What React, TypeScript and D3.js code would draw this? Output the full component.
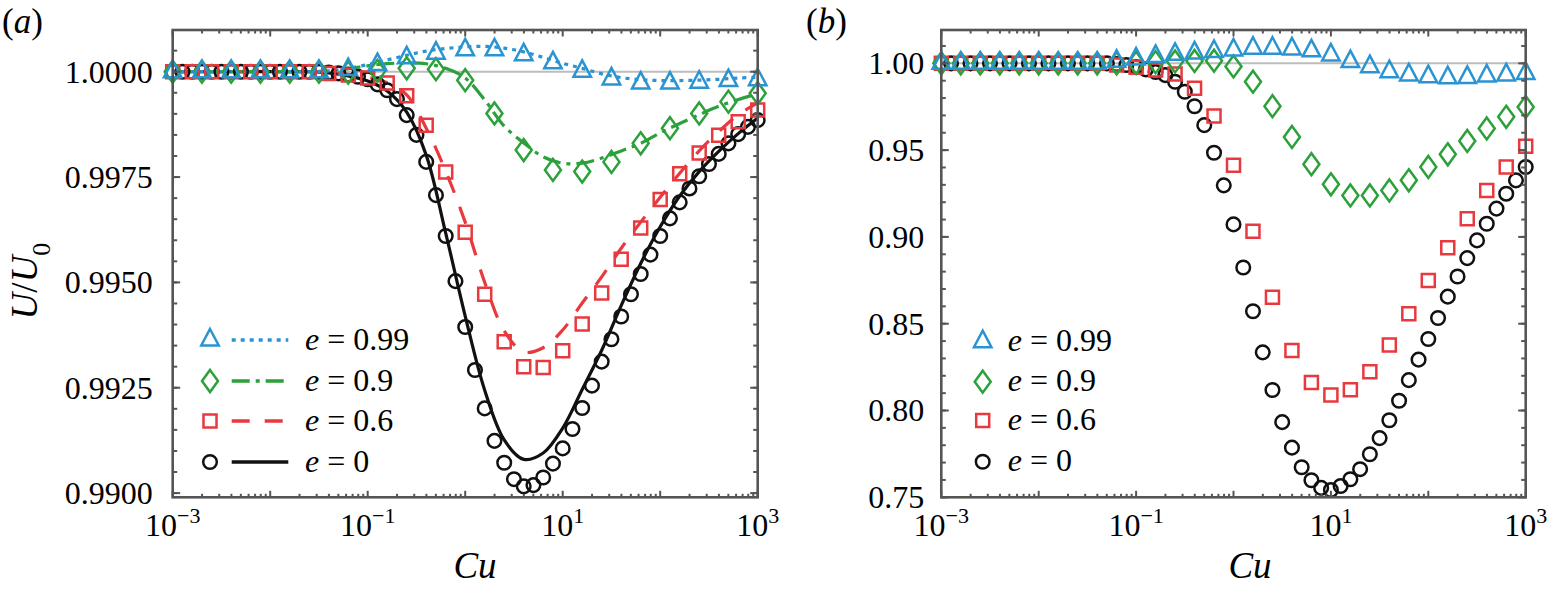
import React, { useEffect, useRef } from 'react';
import * as d3 from 'd3';

// log10(Cu) sampling grids
const expStep3 = [-3, -2.7, -2.4, -2.1, -1.8, -1.5, -1.2, -0.9, -0.6, -0.3, 0, 0.3, 0.6, 0.9, 1.2, 1.5, 1.8, 2.1, 2.4, 2.7, 3];
const expStep2 = [-3, -2.8, -2.6, -2.4, -2.2, -2, -1.8, -1.6, -1.4, -1.2, -1, -0.8, -0.6, -0.4, -0.2, 0, 0.2, 0.4, 0.6, 0.8, 1, 1.2, 1.4, 1.6, 1.8, 2, 2.2, 2.4, 2.6, 2.8, 3];
const expStep1 = [-3, -2.9, -2.8, -2.7, -2.6, -2.5, -2.4, -2.3, -2.2, -2.1, -2, -1.9, -1.8, -1.7, -1.6, -1.5, -1.4, -1.3, -1.2, -1.1, -1, -0.9, -0.8, -0.7, -0.6, -0.5, -0.4, -0.3, -0.2, -0.1, 0, 0.1, 0.2, 0.3, 0.4, 0.5, 0.6, 0.7, 0.8, 0.9, 1, 1.1, 1.2, 1.3, 1.4, 1.5, 1.6, 1.7, 1.8, 1.9, 2, 2.1, 2.2, 2.3, 2.4, 2.5, 2.6, 2.7, 2.8, 2.9, 3];

// panel (a) markers
const aTri099 = [1, 1, 1, 1, 1, 1, 1.00005, 1.00017, 1.00033, 1.00044, 1.00052, 1.00052, 1.0004, 1.00021, 1.00001, 0.99983, 0.99973, 0.99973, 0.99975, 0.99979, 0.99981];
const aDia09 = [1, 1, 1, 1, 1, 1, 0.99998, 1.00002, 1.00008, 1.00006, 0.9998, 0.99901, 0.99814, 0.99767, 0.99763, 0.99786, 0.9983, 0.99866, 0.99901, 0.99929, 0.99949];
const aSq06 = [1, 1, 1, 1, 1, 1, 1, 1, 0.99996, 0.99992, 0.99985, 0.99973, 0.99943, 0.99873, 0.99762, 0.99619, 0.99472, 0.99359, 0.993, 0.99298, 0.99338, 0.99401, 0.99475, 0.99555, 0.99629, 0.99697, 0.99758, 0.99807, 0.99849, 0.99881, 0.99909];
const aCirc0 = [1, 1, 1, 1, 1, 1, 1, 1, 1, 1, 1, 1, 1, 1, 1, 1,
  0.99998, 0.99996, 0.99993, 0.99988, 0.99982, 0.9997, 0.99956, 0.99935, 0.99897,
  0.9985, 0.99786, 0.99707, 0.9961, 0.99503, 0.99394, 0.99292, 0.99201, 0.99124, 0.99072,
  0.99033, 0.99016, 0.99019, 0.99037, 0.9907, 0.99106, 0.99152, 0.99202, 0.99255, 0.99312,
  0.99365, 0.99419, 0.99472, 0.9952, 0.99566, 0.9961, 0.99652, 0.9969, 0.99723, 0.99752,
  0.99781, 0.99805, 0.9983, 0.99852, 0.99869, 0.99885];

// panel (a) theory curves
const aLine099 = [1, 1, 1, 1, 1, 1, 1, 1, 1.00002, 1.00008, 1.00017, 1.00028, 1.00039, 1.00049, 1.00055, 1.00059, 1.0006, 1.00056, 1.00047, 1.00034, 1.0002, 1.00008, 0.99995, 0.99986, 0.99981, 0.99979, 0.99979, 0.9998, 0.99982, 0.99985, 0.99987];
const aLine09 = [1, 1, 1, 1, 1, 1, 1, 1, 1.00002, 1.00007, 1.00014, 1.00019, 1.00021, 1.00019, 1.00008, 0.99985, 0.99933, 0.99871, 0.99831, 0.99798, 0.99783, 0.99783, 0.99795, 0.99812, 0.9983, 0.99855, 0.99877, 0.99898, 0.99918, 0.99934, 0.99948];
const aLine06 = [1, 1, 1, 1, 1, 1, 1, 1, 0.99998, 0.99994, 0.99987, 0.99974, 0.99945, 0.99866, 0.99764, 0.99643, 0.995, 0.99385, 0.99335, 0.99345, 0.99387, 0.99451, 0.99513, 0.99581, 0.99643, 0.99702, 0.99759, 0.99812, 0.99858, 0.99898, 0.99926];
const aLine0 = [1, 1, 1, 1, 1, 1, 1, 1, 0.99997, 0.9999, 0.99978, 0.99954, 0.99904, 0.99802, 0.99617, 0.9942, 0.99244, 0.99126, 0.9908, 0.99095, 0.99154, 0.99246, 0.99339, 0.99445, 0.99545, 0.99632, 0.99705, 0.99763, 0.99811, 0.99853, 0.9989];

// panel (b) markers
const bTri099 = [1, 1, 1, 1, 1, 1, 1, 1, 1, 1.0012, 1.0025, 1.004, 1.0052, 1.006, 1.0068, 1.0077, 1.0087, 1.0087, 1.0083, 1.0072, 1.0048, 1.001, 0.9981, 0.9952, 0.9933, 0.9923, 0.9917, 0.9919, 0.9927, 0.9933, 0.9942];
const bDia09 = [1, 1, 1, 1, 1, 1, 1, 1, 1, 1, 1.0003, 1.0007, 1.0011, 1.0014, 1.0015, 0.9982, 0.9894, 0.9753, 0.9576, 0.9419, 0.9303, 0.9239, 0.9239, 0.9268, 0.9326, 0.9403, 0.9476, 0.9553, 0.9625, 0.9692, 0.9749];
const bSq06 = [1, 1, 1, 1, 1, 1, 1, 1, 1, 0.999, 0.9978, 0.9962, 0.9938, 0.9856, 0.9696, 0.9413, 0.9032, 0.8653, 0.8346, 0.8162, 0.8089, 0.8119, 0.8223, 0.8378, 0.8557, 0.8749, 0.8938, 0.9105, 0.9268, 0.9403, 0.9522];
const bCirc0 = [1, 1, 1, 1, 1, 1, 1, 1, 1, 1, 1, 1, 1, 1, 1, 1, 1, 1,
  0.9996, 0.999, 0.9978, 0.9965, 0.995, 0.9932, 0.9894, 0.9836, 0.9753, 0.9644,
  0.9485, 0.9297, 0.9072, 0.8824, 0.8572, 0.8335, 0.8118, 0.7933, 0.7786, 0.7673,
  0.7598, 0.7554, 0.7542, 0.7565, 0.7604, 0.7662, 0.7748, 0.7841, 0.7944, 0.8056,
  0.8175, 0.8293, 0.8412, 0.8533, 0.8656, 0.8772, 0.8878, 0.898, 0.9076, 0.9163,
  0.9249, 0.9326, 0.9403];

const legendLabels = ['0.99', '0.9', '0.6', '0'];
const xLabelExps = [-3, -1, 1, 3];
const yTicksA = [0.99, 0.9925, 0.995, 0.9975, 1];
const yTicksB = [0.75, 0.8, 0.85, 0.9, 0.95, 1];

const FONT = "'Liberation Serif', 'Times New Roman', Times, serif";
const AXIS_COLOR = '#555555';
const BLUE = '#2a94d3';
const GREEN = '#2ca03a';
const RED = '#e8393e';
const BLACK = '#111111';

type Shape = 'triangle' | 'diamond' | 'square' | 'circle';

const markerPath = (shape: Shape): string => {
  if (shape === 'triangle') {
    const w = 17.5, h = 16.5;
    return `M0,${(-2 * h) / 3}L${w / 2},${h / 3}L${-w / 2},${h / 3}Z`;
  }
  if (shape === 'diamond') {
    const w = 16, h = 22;
    return `M0,${-h / 2}L${w / 2},0L0,${h / 2}L${-w / 2},0Z`;
  }
  if (shape === 'square') {
    const s = 13;
    return `M${-s / 2},${-s / 2}h${s}v${s}h${-s}Z`;
  }
  const r = 6.8;
  return `M${r},0A${r},${r} 0 1,1 ${-r},0A${r},${r} 0 1,1 ${r},0Z`;
};

interface Series {
  shape: Shape;
  color: string;
  exps: number[];
  values: number[];
  lineValues?: number[];
  dash?: string;
}

interface Panel {
  left: number;
  right: number;
  yDomain: [number, number];
  yTicks: number[];
  yMinorStep: number;
  yFormat: (v: number) => string;
  labelGap: number;
  series: Series[]; // legend order
  legendMarkerX: number;
  legendLine?: [number, number];
  legendTextX: number;
  legendRows: number[];
  tag: string;
  tagX: number;
  cuX: number;
  yTitle: boolean;
}

const TOP = 30;
const BOTTOM = 497.3;

const panels: Panel[] = [
  {
    left: 172.7,
    right: 757.7,
    yDomain: [0.9899, 1.00099],
    yTicks: yTicksA,
    yMinorStep: 0.0005,
    yFormat: d3.format('.4f'),
    labelGap: 20,
    series: [
      { shape: 'triangle', color: BLUE, exps: expStep3, values: aTri099, lineValues: aLine099, dash: '4,5' },
      { shape: 'diamond', color: GREEN, exps: expStep3, values: aDia09, lineValues: aLine09, dash: '18,6,4,6' },
      { shape: 'square', color: RED, exps: expStep2, values: aSq06, lineValues: aLine06, dash: '18,15' },
      { shape: 'circle', color: BLACK, exps: expStep1, values: aCirc0, lineValues: aLine0 },
    ],
    legendMarkerX: 210,
    legendLine: [231.7, 288.3],
    legendTextX: 305,
    legendRows: [340, 381, 421, 462],
    tag: 'a',
    tagX: 2,
    cuX: 475,
    yTitle: true,
  },
  {
    left: 941.3,
    right: 1525.7,
    yDomain: [0.75, 1.0192],
    yTicks: yTicksB,
    yMinorStep: 0.01,
    yFormat: d3.format('.2f'),
    labelGap: 17,
    series: [
      { shape: 'triangle', color: BLUE, exps: expStep2, values: bTri099 },
      { shape: 'diamond', color: GREEN, exps: expStep2, values: bDia09 },
      { shape: 'square', color: RED, exps: expStep2, values: bSq06 },
      { shape: 'circle', color: BLACK, exps: expStep1, values: bCirc0 },
    ],
    legendMarkerX: 982.7,
    legendTextX: 1007.7,
    legendRows: [341.7, 381.7, 420.5, 461.7],
    tag: 'b',
    tagX: 806,
    cuX: 1250,
    yTitle: false,
  },
];

const drawPanel = (root: d3.Selection<SVGSVGElement, unknown, null, undefined>, p: Panel) => {
  const x = d3.scaleLog().domain([1e-3, 1e3]).range([p.left, p.right]);
  const y = d3.scaleLinear().domain(p.yDomain).range([BOTTOM, TOP]);
  const g = root.append('g');

  // reference line at U/U0 = 1
  g.append('line')
    .attr('x1', p.left)
    .attr('x2', p.right)
    .attr('y1', y(1))
    .attr('y2', y(1))
    .attr('stroke', '#bdbdbd')
    .attr('stroke-width', 2);

  // theory curves (drawn back to front: e=0 first)
  const line = d3
    .line<number>()
    .x((_, i) => x(Math.pow(10, expStep2[i])))
    .y(d => y(d))
    .curve(d3.curveCatmullRom);

  [...p.series].reverse().forEach(s => {
    if (!s.lineValues) return;
    g.append('path')
      .datum(s.lineValues)
      .attr('fill', 'none')
      .attr('stroke', s.color)
      .attr('stroke-width', 3.2)
      .attr('stroke-dasharray', s.dash ?? null)
      .attr('d', line);
  });

  // simulation markers
  [...p.series].reverse().forEach(s => {
    g.append('g')
      .selectAll('path')
      .data(s.values)
      .join('path')
      .attr('transform', (d, i) => `translate(${x(Math.pow(10, s.exps[i]))},${y(d)})`)
      .attr('d', markerPath(s.shape))
      .attr('fill', 'none')
      .attr('stroke', s.color)
      .attr('stroke-width', 2.5);
  });

  // frame
  g.append('rect')
    .attr('x', p.left)
    .attr('y', TOP)
    .attr('width', p.right - p.left)
    .attr('height', BOTTOM - TOP)
    .attr('fill', 'none')
    .attr('stroke', AXIS_COLOR)
    .attr('stroke-width', 2.6);

  const ticks = g.append('g').attr('stroke', AXIS_COLOR).attr('stroke-width', 2);

  // x ticks (log, inward, both sides)
  const xMinor: number[] = [];
  d3.range(-3, 3).forEach(n => d3.range(2, 10).forEach(m => xMinor.push(m * Math.pow(10, n))));
  const xMajor = d3.range(-3, 4).map(n => Math.pow(10, n));
  const addX = (vals: number[], len: number) => {
    vals.forEach(v => {
      const px = x(v);
      ticks.append('line').attr('x1', px).attr('x2', px).attr('y1', BOTTOM).attr('y2', BOTTOM - len);
      ticks.append('line').attr('x1', px).attr('x2', px).attr('y1', TOP).attr('y2', TOP + len);
    });
  };
  addX(xMinor, 3.5);
  addX(xMajor, 6.5);

  // y ticks
  const yMinor = d3
    .range(0, 60)
    .map(i => p.yTicks[0] + i * p.yMinorStep)
    .filter(v => v <= p.yDomain[1] + 1e-9);
  const addY = (vals: number[], len: number) => {
    vals.forEach(v => {
      const py = y(v);
      ticks.append('line').attr('x1', p.left).attr('x2', p.left + len).attr('y1', py).attr('y2', py);
      ticks.append('line').attr('x1', p.right).attr('x2', p.right - len).attr('y1', py).attr('y2', py);
    });
  };
  addY(yMinor, 4.5);
  addY(p.yTicks, 7.5);

  // y tick labels
  p.yTicks.forEach(v => {
    g.append('text')
      .attr('x', p.left - p.labelGap)
      .attr('y', y(v))
      .attr('dy', '0.34em')
      .attr('text-anchor', 'end')
      .attr('font-family', FONT)
      .attr('font-size', 32)
      .attr('fill', '#000')
      .text(p.yFormat(v));
  });

  // x tick labels 10^n
  xLabelExps.forEach(e => {
    const t = g
      .append('text')
      .attr('x', x(Math.pow(10, e)))
      .attr('y', 536)
      .attr('text-anchor', 'middle')
      .attr('font-family', FONT)
      .attr('font-size', 32)
      .attr('fill', '#000');
    t.append('tspan').text('10');
    t.append('tspan')
      .attr('dy', -13)
      .attr('font-size', 22)
      .text(`${e < 0 ? '\u2212' : ''}${Math.abs(e)}`);
  });

  // x title
  g.append('text')
    .attr('x', p.cuX)
    .attr('y', 578)
    .attr('text-anchor', 'middle')
    .attr('font-family', FONT)
    .attr('font-size', 37)
    .attr('font-style', 'italic')
    .attr('fill', '#000')
    .text('Cu');

  // y title
  if (p.yTitle) {
    const yt = g
      .append('text')
      .attr('transform', `translate(37,281) rotate(-90)`)
      .attr('text-anchor', 'middle')
      .attr('font-family', FONT)
      .attr('font-size', 37)
      .attr('fill', '#000');
    yt.append('tspan').attr('font-style', 'italic').text('U');
    yt.append('tspan').text('/');
    yt.append('tspan').attr('font-style', 'italic').text('U');
    yt.append('tspan').attr('font-size', 26).attr('dy', 13).text('0');
  }

  // panel tag
  const tag = g
    .append('text')
    .attr('x', p.tagX)
    .attr('y', 33)
    .attr('font-family', FONT)
    .attr('font-size', 35)
    .attr('fill', '#000');
  tag.append('tspan').text('(');
  tag.append('tspan').attr('font-style', 'italic').text(p.tag);
  tag.append('tspan').text(')');

  // legend
  p.series.forEach((s, i) => {
    const ly = p.legendRows[i];
    g.append('path')
      .attr('transform', `translate(${p.legendMarkerX},${ly})`)
      .attr('d', markerPath(s.shape))
      .attr('fill', 'none')
      .attr('stroke', s.color)
      .attr('stroke-width', 2.5);
    if (p.legendLine && s.lineValues) {
      g.append('line')
        .attr('x1', p.legendLine[0])
        .attr('x2', p.legendLine[1])
        .attr('y1', ly)
        .attr('y2', ly)
        .attr('stroke', s.color)
        .attr('stroke-width', 3.4)
        .attr('stroke-dasharray', s.dash ?? null);
    }
    const t = g
      .append('text')
      .attr('x', p.legendTextX)
      .attr('y', ly)
      .attr('dy', '0.3em')
      .attr('font-family', FONT)
      .attr('font-size', 32)
      .attr('fill', '#000');
    t.append('tspan').attr('font-style', 'italic').text('e');
    t.append('tspan').text(` = ${legendLabels[i]}`);
  });
};

const App: React.FC = () => {
  const svgRef = useRef<SVGSVGElement>(null);

  useEffect(() => {
    if (!svgRef.current) return;
    const svg = d3.select(svgRef.current);
    svg.selectAll('*').remove();
    svg.append('rect').attr('width', 1547).attr('height', 590).attr('fill', '#fff');
    panels.forEach(p => drawPanel(svg, p));
  }, []);

  return (
    <svg
      ref={svgRef}
      width={1547}
      height={590}
      style={{ position: 'absolute', left: 0, top: 0, display: 'block' }}
    />
  );
};

export default App;
